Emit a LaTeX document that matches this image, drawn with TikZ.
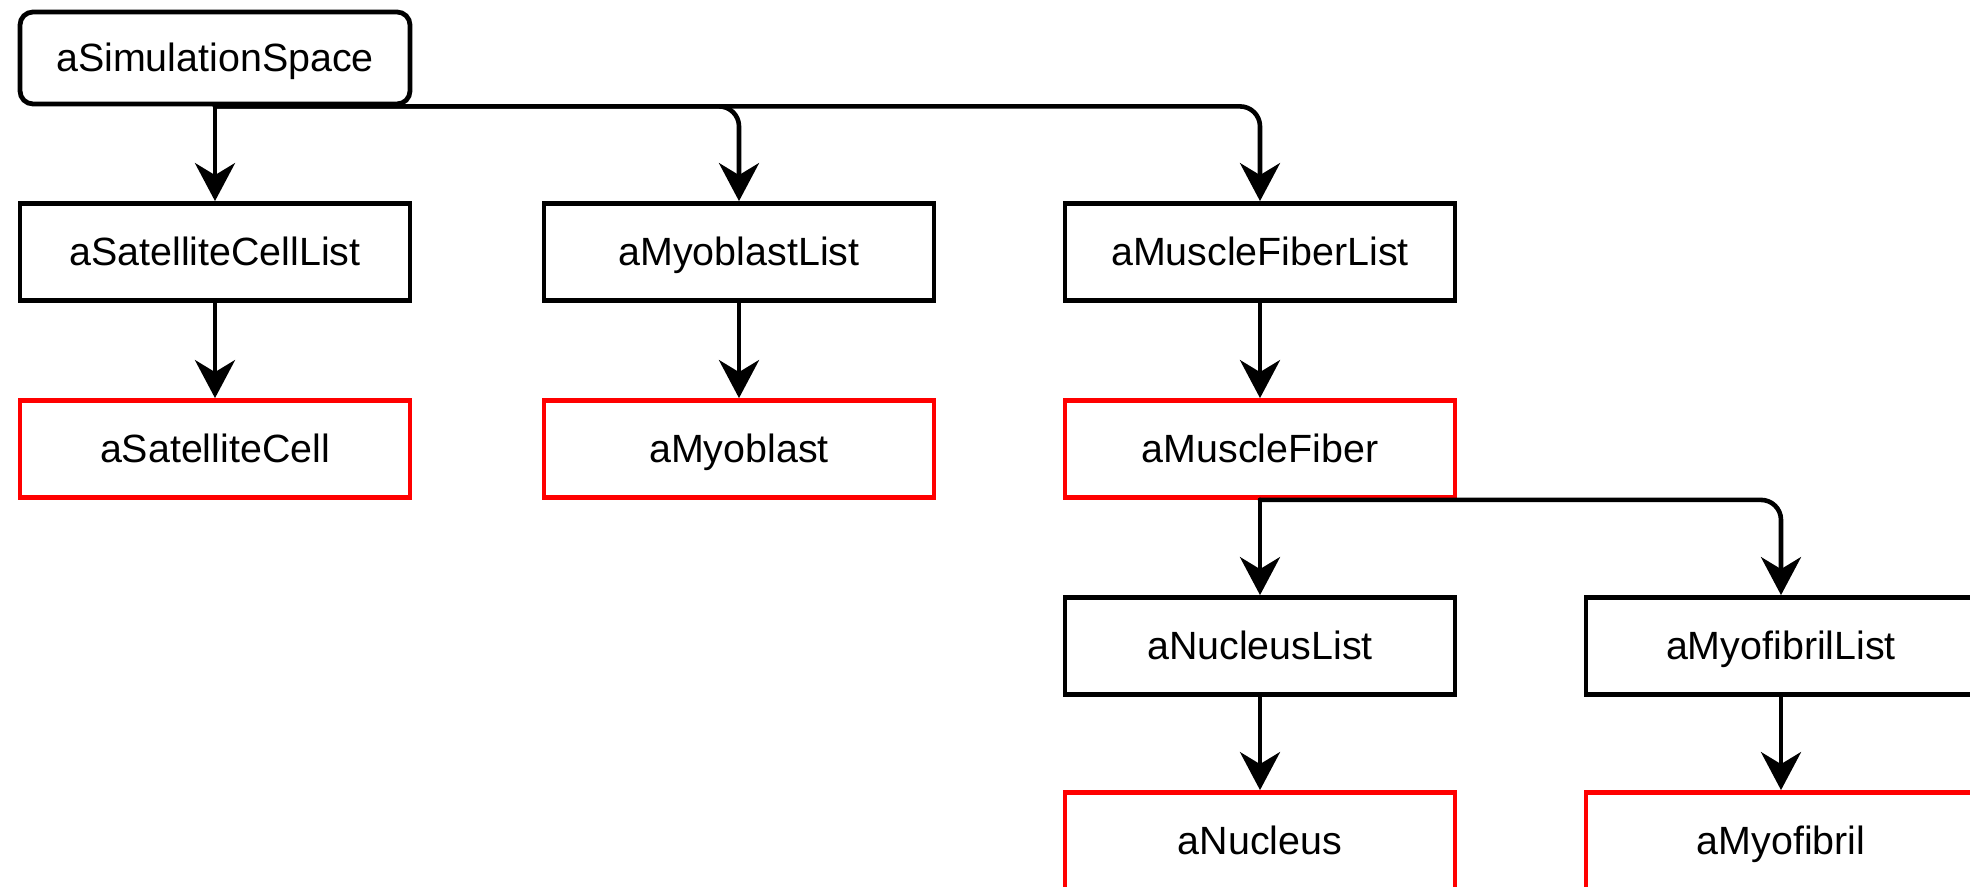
\documentclass[tikz,border=0pt]{standalone}
\usepackage{fontspec}
\setmainfont{Liberation Sans}
\usetikzlibrary{arrows.meta}

\begin{document}
\begin{tikzpicture}[line cap=round,line join=round,>={Stealth[length=19pt,width=20pt,inset=6pt]},x=0.5pt,y=0.5pt,
  listbox/.style={draw=black,line width=2.4pt,line join=miter,minimum width=195pt,minimum height=48.5pt,inner sep=0pt,text height=14pt,text depth=0.2pt,font=\fontsize{19.7pt}{23pt}\selectfont},
  itembox/.style={listbox,draw=red},
  spacebox/.style={listbox,minimum height=46pt,rounded corners=6.5pt},
  link/.style={->,line width=2.3pt,rounded corners=10pt}]
\useasboundingbox (0,0) rectangle (1970,-887);
% root
\node[spacebox] (space) at (215,-58) {aSimulationSpace};
% lists
\node[listbox] (satlist) at (215,-252) {aSatelliteCellList};
\node[listbox] (myolist) at (739,-252) {aMyoblastList};
\node[listbox] (fiberlist) at (1260,-252) {aMuscleFiberList};
% items
\node[itembox] (satcell) at (215,-449) {aSatelliteCell};
\node[itembox] (myoblast) at (739,-449) {aMyoblast};
\node[itembox] (fiber) at (1260,-449) {aMuscleFiber};
% inside the fiber
\node[listbox] (nuclist) at (1260,-646) {aNucleusList};
\node[listbox] (fibrillist) at (1781,-646) {aMyofibrilList};
\node[itembox] (nucleus) at (1260,-841) {aNucleus};
\node[itembox] (fibril) at (1781,-841) {aMyofibril};
\draw[link] (space.south) -- (satlist.north);
\draw[link] (space.south) -| (myolist.north);
\draw[link] (space.south) -| (fiberlist.north);
\draw[link] (satlist.south) -- (satcell.north);
\draw[link] (myolist.south) -- (myoblast.north);
\draw[link] (fiberlist.south) -- (fiber.north);
\draw[link] (fiber.south) -- (nuclist.north);
\draw[link] (fiber.south) -| (fibrillist.north);
\draw[link] (nuclist.south) -- (nucleus.north);
\draw[link] (fibrillist.south) -- (fibril.north);
\end{tikzpicture}
\end{document}
